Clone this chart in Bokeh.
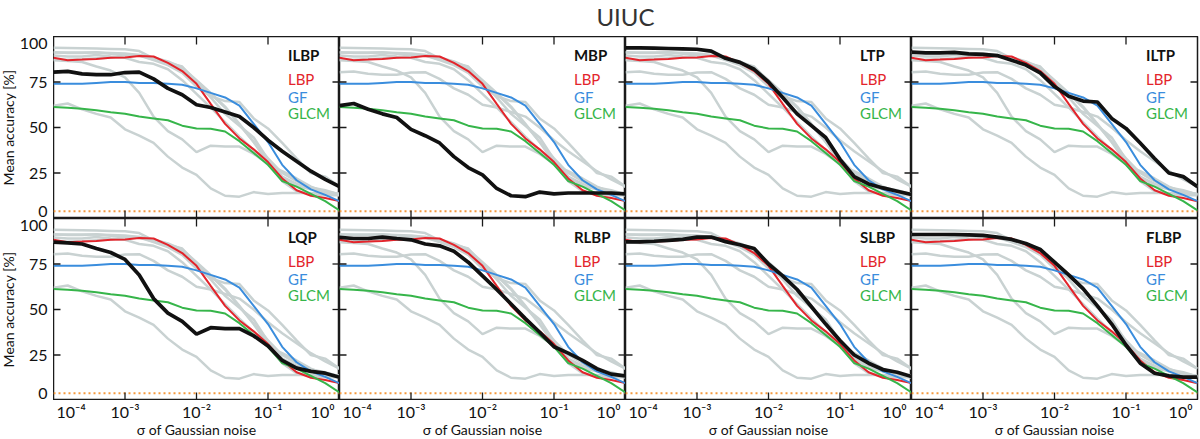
import math
from bokeh.plotting import figure
from bokeh.models import Range1d, Span
from bokeh.layouts import column, row
from bokeh.core.properties import value
from bokeh.embed import file_html
from bokeh.resources import INLINE

title_text = "UIUC"
x_title = "σ of Gaussian noise"
y_title = "Mean accuracy [%]"

# sigma of Gaussian noise (x values)
sigma = [0.0001, 0.000158, 0.000251, 0.000398, 0.000631, 0.001, 0.00158, 0.00251,
         0.00398, 0.00631, 0.01, 0.0158, 0.0251, 0.0398, 0.0631, 0.1, 0.158,
         0.251, 0.398, 0.631, 1.0]

# reference descriptors (same in every panel)
lbp = [88.3, 87.0, 87.3, 87.7, 88.3, 88.5, 89.3, 89.0, 85.5, 81.0, 74.0, 63.0, 52.0,
       44.0, 38.0, 31.0, 22.0, 15.5, 12.5, 11.3, 9.5]
gf = [74.0, 74.0, 74.0, 74.5, 75.0, 75.0, 74.5, 74.5, 74.0, 73.5, 71.5, 69.0, 66.5,
      62.0, 52.0, 42.0, 29.5, 21.0, 16.0, 13.0, 9.5]
glcm = [61.2, 60.8, 60.3, 59.5, 58.4, 57.5, 56.0, 55.0, 54.0, 51.0, 49.5, 49.3, 47.8,
        42.5, 36.0, 29.5, 20.5, 17.5, 13.5, 9.5, 4.4]

# highlighted descriptors
ilbp = [80.4, 80.8, 79.5, 79.0, 79.0, 80.2, 80.4, 76.7, 71.5, 68.0, 62.5, 61.0, 58.5,
        56.0, 50.0, 43.0, 37.0, 31.5, 26.0, 21.5, 17.5]
mbp = [62.0, 63.2, 60.0, 57.5, 55.5, 49.0, 45.5, 41.5, 34.0, 28.0, 24.0, 16.5, 12.5,
       12.0, 14.5, 13.5, 14.0, 14.0, 14.0, 14.0, 13.5]
ltp = [93.8, 93.7, 93.6, 93.4, 93.2, 93.0, 92.0, 88.0, 85.8, 82.0, 75.0, 66.5, 57.5,
       51.0, 44.5, 32.5, 23.0, 19.0, 16.8, 15.0, 13.2]
iltp = [91.4, 91.0, 91.0, 91.3, 90.5, 90.2, 89.5, 87.0, 84.3, 80.0, 72.5, 67.2, 64.5,
        64.0, 55.0, 49.5, 41.5, 33.0, 25.0, 23.0, 17.5]
lqp = [87.0, 86.6, 86.0, 83.5, 81.3, 77.5, 69.0, 56.0, 48.0, 43.5, 36.5, 40.0, 39.5,
       39.5, 35.5, 30.0, 22.0, 17.8, 16.0, 15.0, 12.8]
rlbp = [89.6, 89.0, 89.0, 89.8, 89.0, 88.3, 86.0, 85.0, 82.0, 76.0, 68.5, 61.0, 53.0,
        45.0, 37.5, 29.5, 26.0, 22.0, 17.5, 14.5, 13.5]
slbp = [87.2, 87.2, 87.5, 88.0, 88.5, 89.8, 89.8, 87.3, 85.6, 83.5, 75.0, 68.5, 61.0,
        51.5, 42.0, 33.0, 25.0, 20.5, 17.0, 15.5, 13.2]
flbp = [91.2, 91.2, 91.2, 91.2, 91.0, 90.7, 89.8, 88.5, 86.3, 83.0, 76.0, 69.0, 61.5,
        52.0, 42.0, 30.5, 20.5, 15.0, 13.5, 12.8, 12.8]

method_names = ["ILBP", "MBP", "LTP", "ILTP", "LQP", "RLBP", "SLBP", "FLBP"]
method_curves = [ilbp, mbp, ltp, iltp, lqp, rlbp, slbp, flbp]
baseline_names = ["LBP", "GF", "GLCM"]
baseline_curves = [lbp, gf, glcm]

chance_level = 4
x_lo, x_hi = 0.0001, 1.0
y_lo, y_hi = 0, 100
y_ticks = [25, 50, 75]
y_tick_labels = ["25", "50", "75"]
y_top_label, y_bottom_label = "100", "0"
x_ticks = [0.001, 0.01, 0.1]
x_tick_labels = ["10⁻³", "10⁻²", "10⁻¹"]
x_left_label, x_right_label = "10⁻⁴", "10⁰"

# ---- styling ----
FONT = value("Lato")
FRAME = "#1a1a1a"
GRAY = "#c9d2d2"
BLACK = "#111111"
BASE_COLORS = ["#e3242b", "#3a8ddd", "#36b54a"]
ORANGE = "#f39a40"
FW, FH = 286, 182          # panel frame size
LEFT, BOTTOM, TOP, RIGHT = 53, 38, 36, 2
legend_x = 0.19
legend_y = [90.0, 76.5, 67.0, 58.0]


def bare(fig):
    fig.xgrid.visible = False
    fig.ygrid.visible = False
    fig.outline_line_color = None
    fig.background_fill_color = "white"
    fig.border_fill_color = "white"
    return fig


def make_panel(idx):
    c = idx % 4
    p = figure(frame_width=FW, frame_height=FH, x_axis_type="log",
               x_range=Range1d(x_lo, x_hi), y_range=Range1d(y_lo, y_hi),
               x_axis_location=None, y_axis_location=None,
               toolbar_location=None, output_backend="svg",
               min_border_left=0, min_border_right=RIGHT if c == 3 else 0,
               min_border_top=0, min_border_bottom=0)
    bare(p)
    p.outline_line_color = FRAME
    p.outline_line_width = 1.5

    # chance level
    p.add_layout(Span(location=chance_level, dimension="width", line_color=ORANGE,
                      line_width=2, line_dash="2 3", level="underlay"))

    # other descriptors in gray
    for j, curve in enumerate(method_curves):
        if j != idx:
            p.line(sigma, curve, line_color=GRAY, line_width=2.5)
    for curve, col in zip(baseline_curves, BASE_COLORS):
        p.line(sigma, curve, line_color=col, line_width=2)
    p.line(sigma, method_curves[idx], line_color=BLACK, line_width=3.7)

    # inward tick marks on all four sides (outer half of each dash is clipped)
    for yv in (y_lo, y_hi):
        p.scatter(x_ticks, [yv] * len(x_ticks), marker="dash", angle=math.pi / 2,
                  size=16, line_color=FRAME, line_width=1.3)
    for xv in (x_lo, x_hi):
        p.scatter([xv] * len(y_ticks), y_ticks, marker="dash", size=14,
                  line_color=FRAME, line_width=1.3)

    # in-panel legend text
    p.text([legend_x], [legend_y[0]], text=[method_names[idx]], text_font=FONT,
           text_font_size="15px", text_font_style="bold", text_color=BLACK,
           text_align="left", text_baseline="middle")
    for name, col, yy in zip(baseline_names, BASE_COLORS, legend_y[1:]):
        p.text([legend_x], [yy], text=[name], text_font=FONT, text_font_size="15px",
               text_color=col, text_align="left", text_baseline="middle")
    return p


def make_y_strip():
    """Tick labels and titles of the y axes of both rows, in one tall strip."""
    total = TOP + 2 * FH + BOTTOM
    f = figure(frame_width=LEFT, frame_height=total, x_range=Range1d(0, LEFT),
               y_range=Range1d(0, total), x_axis_location=None,
               y_axis_location=None, toolbar_location=None, output_backend="svg",
               min_border=0)
    bare(f)
    per_px = (y_hi - y_lo) / FH
    lx = LEFT - 6
    kw = dict(text_font=FONT, text_font_size="16px", text_color=BLACK,
              text_align="right", text_baseline="middle")
    for r in range(2):
        name = "row%d" % r
        bottom_px = BOTTOM + (1 - r) * FH        # frame bottom of this row, from strip bottom
        start = y_lo - bottom_px * per_px
        f.extra_y_ranges[name] = Range1d(start, start + total * per_px)
        f.text([lx] * len(y_ticks), y_ticks, text=y_tick_labels, y_range_name=name, **kw)
        f.text([lx], [y_hi - 7 * per_px], text=[y_top_label], y_range_name=name, **kw)
        f.text([lx], [y_lo + 7 * per_px], text=[y_bottom_label], y_range_name=name, **kw)
        f.text([8], [(y_lo + y_hi) / 2], text=[y_title], angle=math.pi / 2,
               y_range_name=name, text_font=FONT, text_font_size="14px",
               text_color=BLACK, text_align="center", text_baseline="middle")
    return f


def make_x_axis(c):
    f = figure(frame_width=FW, frame_height=BOTTOM, x_axis_type="log",
               x_range=Range1d(x_lo, x_hi), y_range=Range1d(0, BOTTOM),
               x_axis_location=None, y_axis_location=None, toolbar_location=None,
               output_backend="svg", min_border_left=0,
               min_border_right=RIGHT if c == 3 else 0, min_border_top=0,
               min_border_bottom=0)
    bare(f)
    ty = BOTTOM - 1
    kw = dict(text_font=FONT, text_font_size="16px", text_color=BLACK,
              text_baseline="top")
    f.text(x_ticks, [ty] * len(x_ticks), text=x_tick_labels, text_align="center", **kw)
    f.text([x_lo], [ty], text=[x_left_label], text_align="left", x_offset=3, **kw)
    f.text([x_hi], [ty], text=[x_right_label], text_align="right", x_offset=-5, **kw)
    f.text([math.sqrt(x_lo * x_hi)], [9.5], text=[x_title], text_font=FONT,
           text_font_size="14px", text_color=BLACK, text_align="center",
           text_baseline="middle")
    return f


panels = [make_panel(i) for i in range(8)]

title_fig = figure(frame_width=4 * FW + RIGHT, frame_height=TOP,
                   x_range=Range1d(0, 4 * FW + RIGHT), y_range=Range1d(0, TOP),
                   x_axis_location=None, y_axis_location=None,
                   toolbar_location=None, output_backend="svg", min_border=0)
bare(title_fig)
title_fig.text([2 * FW], [TOP - 16], text=[title_text], text_font=FONT,
               text_font_size="24px", text_color="#333333", text_align="center",
               text_baseline="middle")

layout = row(
    make_y_strip(),
    column(
        title_fig,
        row(*panels[:4]),
        row(*panels[4:]),
        row(*[make_x_axis(c) for c in range(4)]),
    ),
)

open("out.html", "w").write(file_html(layout, INLINE))
